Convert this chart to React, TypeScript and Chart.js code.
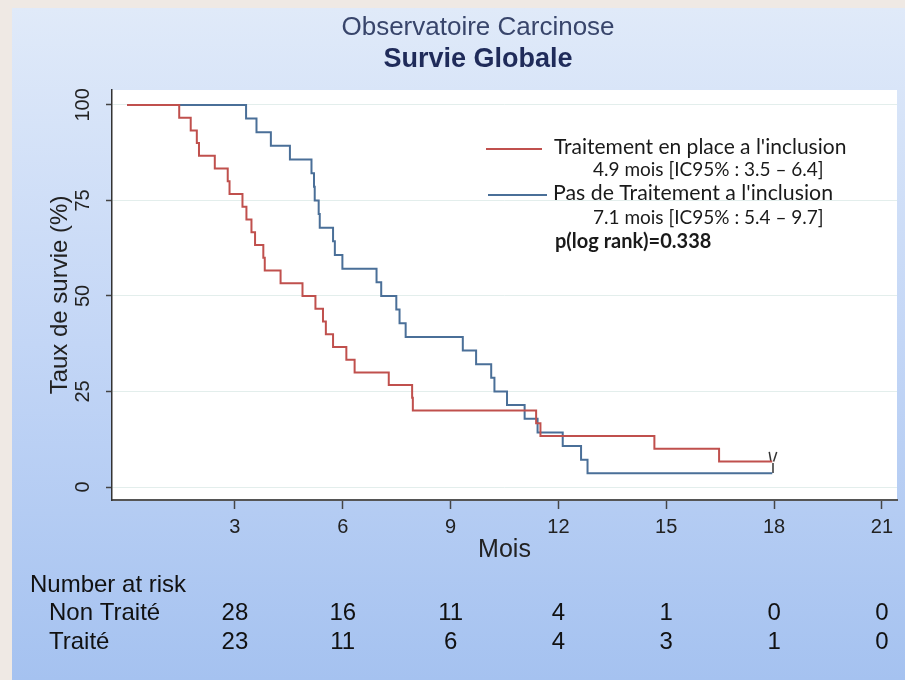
import React, { useEffect, useRef } from 'react';
import { Chart, registerables } from 'chart.js';

Chart.register(...registerables);

// Kaplan-Meier curves (time in months, survival in %)
const redTimes = [0, 1.45, 1.77, 1.94, 2.0, 2.44, 2.8, 2.85, 3.21, 3.32, 3.46, 3.56, 3.79, 3.83, 4.27, 4.88, 5.24, 5.45, 5.53, 5.73, 6.1, 6.33, 7.28, 7.93, 7.95, 11.38, 11.5, 14.67, 16.47, 17.95];
const redSurv = [100, 96.67, 93.33, 90, 86.67, 83.33, 80, 76.67, 73.33, 70, 66.67, 63.33, 60, 56.67, 53.33, 50, 46.67, 43.33, 40, 36.67, 33.33, 30, 26.67, 23.33, 20, 16.67, 13.33, 10, 6.67, 6.67];

const blueTimes = [0, 3.31, 3.6, 4.0, 4.53, 5.13, 5.2, 5.22, 5.33, 5.36, 5.73, 5.78, 5.99, 6.94, 7.07, 7.49, 7.58, 7.75, 9.34, 9.71, 10.13, 10.22, 10.57, 11.06, 11.42, 12.12, 12.63, 12.81, 17.95];
const blueSurv = [100, 96.43, 92.86, 89.29, 85.71, 82.14, 78.57, 75, 71.43, 67.86, 64.29, 60.71, 57.14, 53.57, 50, 46.43, 42.86, 39.29, 35.71, 32.14, 28.57, 25, 21.43, 17.86, 14.29, 10.71, 7.14, 3.57, 3.57];

// censored observations
const redCensorTimes = [17.89, 18.03];
const redCensorSurv = [7.9, 7.9];
const blueCensorTimes = [17.97];
const blueCensorSurv = [5.0];

const xTicks = [3, 6, 9, 12, 15, 18, 21];
const yTicks = [0, 25, 50, 75, 100];

const riskTimes = [3, 6, 9, 12, 15, 18, 21];
const riskNonTraite = [28, 16, 11, 4, 1, 0, 0];
const riskTraite = [23, 11, 6, 4, 3, 1, 0];

const titleText = 'Observatoire Carcinose';
const subtitleText = 'Survie Globale';
const xTitle = 'Mois';
const yTitle = 'Taux de survie (%)';
const legendRed = "Traitement en place a l'inclusion";
const legendRedSub = '4.9 mois [IC95% : 3.5 – 6.4]';
const legendBlue = "Pas de Traitement a l'inclusion";
const legendBlueSub = '7.1 mois [IC95% : 5.4 – 9.7]';
const pValueText = 'p(log rank)=0.338';
const riskHeader = 'Number at risk';
const riskLabels = ['Non Traité', 'Traité'];

const RED = '#c0504d';
const BLUE = '#4a6f98';
const FONT = "'Liberation Sans', Arial, sans-serif";
const LFONT = "Lato, 'Open Sans', sans-serif";

const toPts = (t: number[], s: number[]) => t.map((x, i) => ({ x, y: s[i] }));

const decor = {
  id: 'decor',
  beforeDraw(chart: any) {
    const { ctx, chartArea: a } = chart;
    ctx.save();
    ctx.fillStyle = '#ffffff';
    ctx.fillRect(a.left, a.top, a.right - a.left, a.bottom - a.top);
    ctx.restore();
  },
  afterDraw(chart: any) {
    const { ctx } = chart;
    const xs = chart.scales.x;
    ctx.save();
    // titles
    ctx.textAlign = 'center';
    ctx.textBaseline = 'middle';
    ctx.fillStyle = '#38456b';
    ctx.font = `26px ${FONT}`;
    ctx.fillText(titleText, 478, 28);
    ctx.fillStyle = '#1f2b5a';
    ctx.font = `bold 27px ${FONT}`;
    ctx.fillText(subtitleText, 478, 60);

    // legend
    ctx.lineWidth = 2;
    ctx.strokeStyle = RED;
    ctx.beginPath();
    ctx.moveTo(486, 149);
    ctx.lineTo(542, 149);
    ctx.stroke();
    ctx.strokeStyle = BLUE;
    ctx.beginPath();
    ctx.moveTo(488, 195);
    ctx.lineTo(547, 195);
    ctx.stroke();
    ctx.fillStyle = '#1a1a1a';
    ctx.textBaseline = 'middle';
    ctx.textAlign = 'left';
    ctx.font = `21px ${LFONT}`;
    ctx.fillText(legendRed, 554, 147);
    ctx.font = `21.3px ${LFONT}`;
    ctx.fillText(legendBlue, 553, 193);
    ctx.font = `19px ${LFONT}`;
    ctx.fillText(legendRedSub, 593, 170);
    ctx.fillText(legendBlueSub, 593, 218);
    ctx.font = `bold 20px ${LFONT}`;
    ctx.fillText(pValueText, 555, 242);

    // risk table
    ctx.fillStyle = '#111111';
    ctx.font = `24px ${FONT}`;
    ctx.textAlign = 'left';
    ctx.fillText(riskHeader, 30, 585);
    ctx.fillText(riskLabels[0], 49, 613);
    ctx.fillText(riskLabels[1], 49, 642);
    ctx.textAlign = 'center';
    riskTimes.forEach((t, i) => {
      const px = xs.getPixelForValue(t);
      ctx.fillText(String(riskNonTraite[i]), px, 613);
      ctx.fillText(String(riskTraite[i]), px, 642);
    });
    ctx.restore();
  },
};

export default function App() {
  const ref = useRef<HTMLCanvasElement>(null);
  useEffect(() => {
    document.body.style.margin = '0';
    document.body.style.background = '#efe9e4';
    const chart = new Chart(ref.current as HTMLCanvasElement, {
      type: 'line',
      data: {
        datasets: [
          {
            label: legendRed,
            data: toPts(redTimes, redSurv),
            borderColor: RED,
            borderWidth: 2,
            pointRadius: 0,
            stepped: 'before',
            fill: false,
          },
          {
            label: legendBlue,
            data: toPts(blueTimes, blueSurv),
            borderColor: BLUE,
            borderWidth: 2,
            pointRadius: 0,
            stepped: 'before',
            fill: false,
          },
          {
            label: 'censor red',
            data: toPts(redCensorTimes, redCensorSurv),
            showLine: false,
            pointStyle: 'line',
            pointRotation: [80, 108],
            pointRadius: 5,
            borderColor: '#333333',
            borderWidth: 1.5,
          },
          {
            label: 'censor blue',
            data: toPts(blueCensorTimes, blueCensorSurv),
            showLine: false,
            pointStyle: 'line',
            pointRotation: 90,
            pointRadius: 5,
            borderColor: '#333333',
            borderWidth: 1.5,
          },
        ],
      },
      plugins: [decor],
      options: {
        responsive: false,
        maintainAspectRatio: false,
        animation: false,
        events: [],
        layout: { padding: { left: 0, right: 8, top: 90, bottom: 0 } },
        plugins: {
          legend: { display: false },
          tooltip: { enabled: false },
          title: { display: false },
          subtitle: { display: false },
        },
        scales: {
          x: {
            type: 'linear',
            min: -0.42,
            max: 21.42,
            afterBuildTicks: (s: any) => {
              s.ticks = xTicks.map((v) => ({ value: v }));
            },
            afterFit: (s: any) => {
              s.height = 180;
            },
            ticks: {
              color: '#222222',
              font: { family: FONT, size: 20 },
              padding: 6,
              maxRotation: 0,
              minRotation: 0,
              autoSkip: false,
            },
            grid: {
              drawOnChartArea: false,
              drawTicks: true,
              tickLength: 9,
              tickColor: '#444444',
              tickWidth: 1.5,
            },
            border: { display: true, color: '#555555', width: 2 },
            title: {
              display: true,
              text: xTitle,
              color: '#222222',
              font: { family: FONT, size: 25 },
              padding: { top: 0, bottom: 115 },
            },
          },
          y: {
            type: 'linear',
            min: -3.4,
            max: 103.9,
            afterBuildTicks: (s: any) => {
              s.ticks = yTicks.map((v) => ({ value: v }));
            },
            afterFit: (s: any) => {
              s.width = 112;
            },
            ticks: {
              color: '#222222',
              font: { family: FONT, size: 20 },
              padding: 6,
              minRotation: 90,
              maxRotation: 90,
              crossAlign: 'center',
            },
            grid: {
              color: '#e3eeec',
              lineWidth: 1,
              drawTicks: true,
              tickLength: 6,
              tickColor: '#444444',
              tickWidth: 1.5,
            },
            border: { display: true, color: '#333333', width: 1.5 },
            title: {
              display: true,
              text: yTitle,
              color: '#222222',
              font: { family: FONT, size: 24 },
              padding: { top: 46, bottom: 0 },
            },
          },
        },
      },
    } as any);
    return () => chart.destroy();
  }, []);

  return (
    <div style={{ position: 'relative', width: 905, height: 680, background: '#efe9e4', overflow: 'hidden' }}>
      <div
        style={{
          position: 'absolute',
          left: 12,
          top: 8,
          width: 893,
          height: 672,
          background: 'linear-gradient(to bottom, #e0eaf9 0%, #c3d6f6 50%, #a5c2f0 100%)',
        }}
      />
      <canvas
        ref={ref}
        width={905}
        height={680}
        style={{ position: 'absolute', left: 0, top: 0, width: 905, height: 680 }}
      />
    </div>
  );
}
